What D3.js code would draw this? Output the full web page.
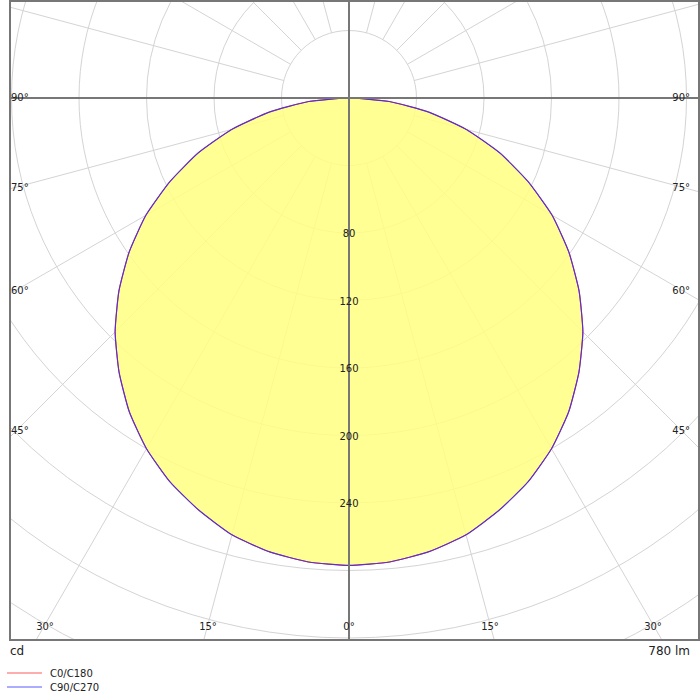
<!DOCTYPE html>
<html>
<head>
<meta charset="utf-8">
<script src="https://cdn.jsdelivr.net/npm/d3@7"></script>
<style>
  body { margin: 0; background: #fff; }
  text { font-family: "DejaVu Sans", sans-serif; font-size: 10px; fill: #222; }
</style>
</head>
<body>
<div class="chart"></div>
<script>
// gamma angles (deg) and luminous intensity (cd)
var angles = [0, 5, 10, 15, 20, 25, 30, 35, 40, 45, 50, 55, 60, 65, 70, 75, 80, 85, 90];
var c0c180 = [277, 276, 273, 268, 260, 251, 240, 227, 212, 196, 178, 159, 139, 117, 95, 72, 48, 24, 0];
var c90c270 = [277, 276, 273, 268, 260, 251, 240, 227, 212, 196, 178, 159, 139, 117, 95, 72, 48, 24, 0];
var ringValues = [40, 80, 120, 160, 200, 240, 280, 320, 360, 400, 440];
var ringLabels = [80, 120, 160, 200, 240];
var bottomAngles = [30, 15, 0, 15, 30];
var sideAngles = [90, 75, 60, 45];

var W = 700, H = 700;
var pLeft = 10, pRight = 699, pTop = 0, pBottom = 640;
var cx = 349, cy = 98;

var svg = d3.select(".chart").append("svg")
    .attr("width", W).attr("height", H);

var r = d3.scaleLinear().domain([0, 80]).range([0, 135]);

svg.append("defs").append("clipPath").attr("id", "plot")
    .append("rect").attr("x", pLeft).attr("y", pTop)
    .attr("width", pRight - pLeft).attr("height", pBottom - pTop);

var g = svg.append("g").attr("clip-path", "url(#plot)");

// rings
g.selectAll("circle.ring").data(ringValues).enter().append("circle")
    .attr("cx", cx).attr("cy", cy).attr("r", function (d) { return r(d); })
    .attr("fill", "none").attr("stroke", "#d4d4d4").attr("stroke-width", 1);

// spokes every 15 deg, from the first ring outward
var spokes = d3.range(0, 360, 15).filter(function (a) { return a % 90 !== 0; });
g.selectAll("line.spoke").data(spokes).enter().append("line")
    .attr("x1", function (a) { return cx + r(40) * Math.sin(a * Math.PI / 180); })
    .attr("y1", function (a) { return cy + r(40) * Math.cos(a * Math.PI / 180); })
    .attr("x2", function (a) { return cx + 1200 * Math.sin(a * Math.PI / 180); })
    .attr("y2", function (a) { return cy + 1200 * Math.cos(a * Math.PI / 180); })
    .attr("stroke", "#d4d4d4").attr("stroke-width", 1);

// curves (mirrored about the vertical axis)
function curvePoints(vals) {
    var pts = [];
    angles.forEach(function (a, i) {
        var t = a * Math.PI / 180;
        pts.push([cx + r(vals[i]) * Math.sin(t), cy + r(vals[i]) * Math.cos(t)]);
    });
    for (var i = angles.length - 2; i > 0; i--) {
        var t = angles[i] * Math.PI / 180;
        pts.push([cx - r(vals[i]) * Math.sin(t), cy + r(vals[i]) * Math.cos(t)]);
    }
    return pts;
}
var line = d3.line().curve(d3.curveCardinalClosed.tension(0.5));

g.append("path").attr("d", line(curvePoints(c90c270)))
    .attr("fill", "#ffff80").attr("fill-opacity", 0.85).attr("stroke", "none");
g.append("path").attr("d", line(curvePoints(c0c180)))
    .attr("fill", "none").attr("stroke", "#ff4040").attr("stroke-width", 1);
g.append("path").attr("d", line(curvePoints(c90c270)))
    .attr("fill", "none").attr("stroke", "#5a2fd0").attr("stroke-width", 1.2);

// axes
g.append("line").attr("x1", pLeft).attr("x2", pRight).attr("y1", cy).attr("y2", cy)
    .attr("stroke", "#777").attr("stroke-width", 2);
g.append("line").attr("x1", cx).attr("x2", cx).attr("y1", pTop).attr("y2", pBottom)
    .attr("stroke", "#777").attr("stroke-width", 2);

// frame
svg.append("rect").attr("x", pLeft).attr("y", pTop + 1)
    .attr("width", pRight - pLeft).attr("height", pBottom - pTop - 1)
    .attr("fill", "none").attr("stroke", "#777").attr("stroke-width", 2);

// ring labels
svg.selectAll("text.rl").data(ringLabels).enter().append("text")
    .attr("x", cx).attr("y", function (d) { return cy + r(d) + 4; })
    .attr("text-anchor", "middle").text(function (d) { return d; });

// side angle labels
sideAngles.forEach(function (a) {
    var dy = a === 90 ? 0 : 332 / Math.tan(a * Math.PI / 180);
    var y = cy + dy + (a === 90 ? 3 : 4);
    svg.append("text").attr("x", 11).attr("y", y).text(a + "°");
    svg.append("text").attr("x", 690).attr("y", y).attr("text-anchor", "end").text(a + "°");
});

// bottom angle labels
var bottomX = [45, 208, 349, 490, 653];
bottomAngles.forEach(function (a, i) {
    svg.append("text").attr("x", bottomX[i]).attr("y", 630)
        .attr("text-anchor", "middle").text(a + "°");
});

svg.append("text").attr("x", 10).attr("y", 655).style("font-size", "12px").text("cd");
svg.append("text").attr("x", 690).attr("y", 655).attr("text-anchor", "end")
    .style("font-size", "12px").text("780 lm");

// legend
var legend = [["C0/C180", "#ff9090"], ["C90/C270", "#9090ff"]];
legend.forEach(function (d, i) {
    var y = 673 + i * 14;
    svg.append("line").attr("x1", 7).attr("x2", 42).attr("y1", y).attr("y2", y)
        .attr("stroke", d[1]).attr("stroke-width", 1.5);
    svg.append("text").attr("x", 50).attr("y", y + 4).text(d[0]);
});
</script>
</body>
</html>
